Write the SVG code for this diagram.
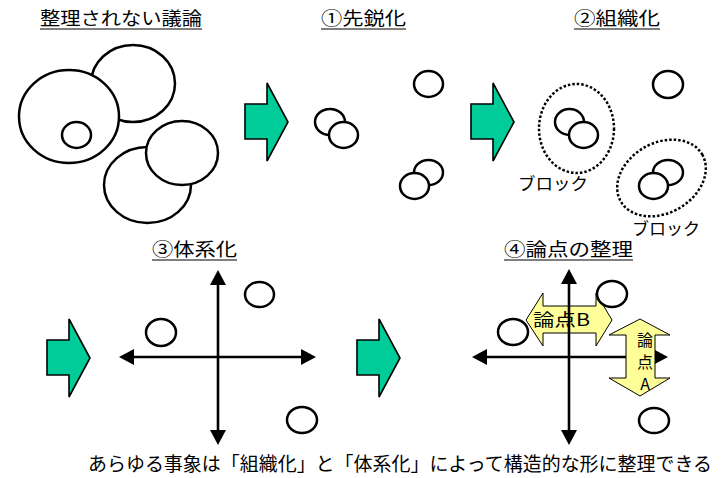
<svg xmlns="http://www.w3.org/2000/svg" width="726" height="478" viewBox="0 0 726 478">
<style>
  text { font-family: "Noto Sans CJK JP", "Noto Sans", sans-serif; fill: #000; }
  .title { font-size: 18px; }
  .label { font-size: 17px; }
  .vlabel { font-size: 16px; }
  .body { font-size: 19px; }
  .ul { stroke: #000; stroke-width: 1.2; }
  .c { fill: #fff; stroke: #000; stroke-width: 2.5; }
  .dot { fill: none; stroke: #000; stroke-width: 2.5; stroke-dasharray: 2.5 2; }
  .go { fill: #00CC99; stroke: #000; stroke-width: 1.6; stroke-linejoin: miter; }
  .yel { fill: #FFFF99; stroke: #000; stroke-width: 1; }
  .axis { stroke: #000; stroke-width: 2.6; fill: none; marker-start: url(#ah); marker-end: url(#ah); }
</style>
<defs>
  <marker id="ah" markerUnits="userSpaceOnUse" markerWidth="16" markerHeight="16" refX="1" refY="8" orient="auto-start-reverse" viewBox="0 0 16 16">
    <path d="M0,0 L15,8 L0,16 z" fill="#000"/>
  </marker>
  <path id="greenArrow" d="M0,0 L22,0 L22,-21 L43,18 L22,57 L22,35 L0,35 z"/>
</defs>
<rect width="726" height="478" fill="#fff"/>

<!-- titles -->
<g id="title-unorganized">
  <text class="title" x="40" y="25" textLength="162" lengthAdjust="spacingAndGlyphs">整理されない議論</text>
  <line class="ul" x1="40" y1="29" x2="202" y2="29"/>
</g>
<g id="title-1">
  <text class="title" x="321" y="25" textLength="85" lengthAdjust="spacingAndGlyphs">①先鋭化</text>
  <line class="ul" x1="321" y1="29" x2="406" y2="29"/>
</g>
<g id="title-2">
  <text class="title" x="574" y="25" textLength="86" lengthAdjust="spacingAndGlyphs">②組織化</text>
  <line class="ul" x1="574" y1="29" x2="660" y2="29"/>
</g>
<g id="title-3">
  <text class="title" x="152" y="256" textLength="85" lengthAdjust="spacingAndGlyphs">③体系化</text>
  <line class="ul" x1="152" y1="260" x2="237" y2="260"/>
</g>
<g id="title-4">
  <text class="title" x="504" y="256" textLength="129" lengthAdjust="spacingAndGlyphs">④論点の整理</text>
  <line class="ul" x1="504" y1="260" x2="633" y2="260"/>
</g>

<!-- stage 0: unorganized discussion -->
<g id="unorganized">
  <ellipse class="c" cx="133" cy="83.5" rx="42" ry="38.5"/>
  <ellipse class="c" cx="69" cy="116.5" rx="50" ry="46.5"/>
  <ellipse class="c" cx="76.5" cy="135" rx="14.5" ry="13"/>
  <ellipse class="c" cx="147.5" cy="185" rx="43.5" ry="38"/>
  <ellipse class="c" cx="182" cy="153" rx="36" ry="32"/>
</g>

<!-- green step arrows -->
<g id="step-arrows">
  <use href="#greenArrow" class="go" x="245" y="104"/>
  <use href="#greenArrow" class="go" x="471" y="104"/>
  <use href="#greenArrow" class="go" x="47" y="340"/>
  <use href="#greenArrow" class="go" x="357" y="340"/>
</g>

<!-- stage 1: sharpening -->
<g id="sharpen">
  <ellipse class="c" cx="330" cy="122" rx="15" ry="13"/>
  <ellipse class="c" cx="343.5" cy="135" rx="14.5" ry="13"/>
  <ellipse class="c" cx="428.5" cy="84" rx="14.5" ry="13"/>
  <ellipse class="c" cx="428.5" cy="172.5" rx="14.5" ry="12.5"/>
  <ellipse class="c" cx="414.5" cy="186" rx="14.5" ry="13"/>
</g>

<!-- stage 2: organizing -->
<g id="organize">
  <ellipse class="c" cx="668" cy="84.5" rx="15" ry="13.5"/>
  <g id="block-1">
    <ellipse class="dot" cx="576.5" cy="128.5" rx="37.5" ry="44.5"/>
    <ellipse class="c" cx="569.5" cy="122" rx="14.5" ry="13"/>
    <ellipse class="c" cx="583.5" cy="135" rx="14.5" ry="13"/>
    <text class="label" x="518" y="190" textLength="70" lengthAdjust="spacingAndGlyphs">ブロック</text>
  </g>
  <g id="block-2">
    <ellipse class="dot" cx="661.5" cy="178" rx="47" ry="35" transform="rotate(-30 661.5 178)"/>
    <ellipse class="c" cx="668" cy="172.5" rx="15" ry="12.5"/>
    <ellipse class="c" cx="653.5" cy="186" rx="14.5" ry="13"/>
    <text class="label" x="632" y="235" textLength="68" lengthAdjust="spacingAndGlyphs">ブロック</text>
  </g>
</g>

<!-- stage 3: systematizing -->
<g id="systematize">
  <g id="axes-3">
    <line class="axis" x1="218" y1="284" x2="218" y2="431"/>
    <line class="axis" x1="133" y1="357" x2="302" y2="357"/>
  </g>
  <ellipse class="c" cx="259.5" cy="294.5" rx="14.5" ry="12.5"/>
  <ellipse class="c" cx="161" cy="332.5" rx="15" ry="13.5"/>
  <ellipse class="c" cx="302" cy="420" rx="15" ry="13"/>
</g>

<!-- stage 4: organizing issues -->
<g id="issues">
  <g id="issue-B">
    <path class="yel" d="M526,320 L543,293 L543,306 L596,306 L596,293 L612,320 L596,346 L596,333 L543,333 L543,346 z"/>
    <text class="label" x="533" y="326" textLength="57" lengthAdjust="spacingAndGlyphs">論点B</text>
  </g>
  <g id="axes-4">
    <line class="axis" x1="569" y1="283" x2="569" y2="431"/>
    <line class="axis" x1="486" y1="357" x2="654" y2="357"/>
  </g>
  <g id="issue-A">
    <path class="yel" d="M640,319 L670,335 L655,335 L655,378 L670,378 L640,396 L609,378 L626,378 L626,335 L609,335 z"/>
    <text class="vlabel" x="645" y="346" text-anchor="middle">論</text>
    <text class="vlabel" x="645" y="368" text-anchor="middle">点</text>
    <text class="vlabel" x="645" y="390" text-anchor="middle" font-family="Liberation Sans, sans-serif">A</text>
  </g>
  <ellipse class="c" cx="612" cy="294" rx="15" ry="13"/>
  <ellipse class="c" cx="513" cy="332" rx="15" ry="13"/>
  <ellipse class="c" cx="654" cy="420.5" rx="15" ry="12.5"/>
</g>

<!-- summary -->
<g id="summary">
  <text class="body" x="88" y="471" textLength="624" lengthAdjust="spacingAndGlyphs">あらゆる事象は「組織化」と「体系化」によって構造的な形に整理できる</text>
</g>
</svg>
